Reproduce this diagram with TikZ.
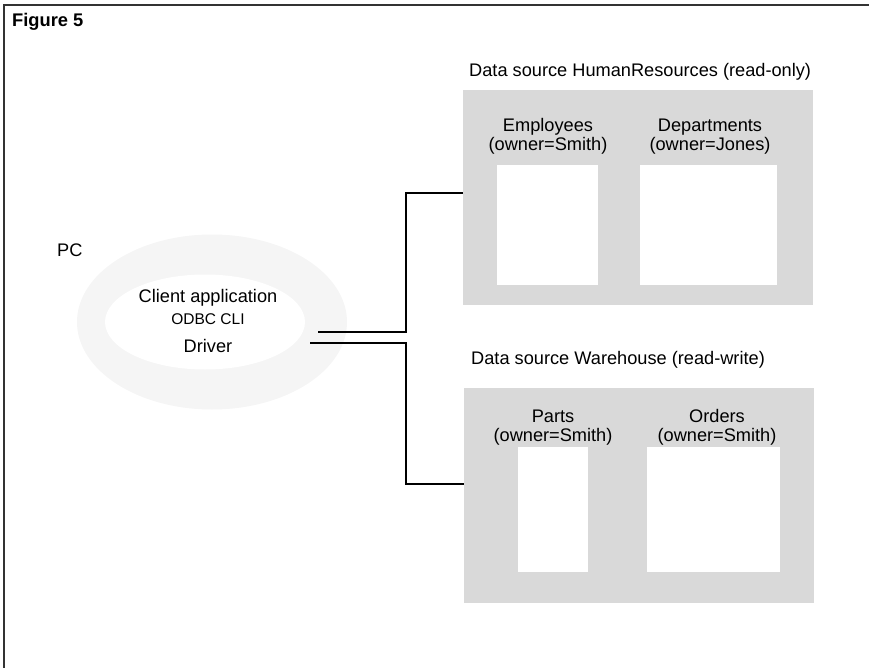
\documentclass[tikz,border=0pt]{standalone}
\usepackage{fontspec}
\setmainfont{Liberation Sans}
\usetikzlibrary{positioning,backgrounds,shapes.geometric}
\definecolor{stipplegray}{HTML}{D9D9D9}
\definecolor{pcgray}{HTML}{F5F5F5}

\begin{document}
\begin{tikzpicture}[
  x=1pt, y=-1pt,
  every node/.style={font=\fontsize{18.2}{20}\selectfont, inner sep=0pt},
  source/.style={fill=stipplegray, minimum width=350pt, minimum height=215pt},
  tablebox/.style={fill=white, minimum height=#1},
  tablebox/.default=120pt,
  pcarea/.style={ellipse, fill=pcgray, minimum width=270pt, minimum height=175pt},
  pchole/.style={ellipse, fill=white, minimum width=200pt, minimum height=95pt},
  title/.style={anchor=base west},
  tlabel/.style={anchor=base},
  smalltext/.style={font=\fontsize{15.5}{17}\selectfont},
  link/.style={draw=black, line width=1.2pt},
  frame/.style={draw=black!80, line width=1.6pt}
]
\useasboundingbox (0,0) rectangle (869,668);

% outer frame
\draw[frame] (4,668) |- (869,5);
\node[font=\bfseries\fontsize{18.3}{20}\selectfont, anchor=base west] (fig) at (12,27) {Figure 5};

% PC
\node[pcarea] (pc) at (212,322) {};
\node[pchole] (pcin) at (205,322) {};
\node[anchor=base west] (pclabel) at (57,256) {PC};
\node[tlabel] (client) at (208,302) {Client application};
\node[tlabel, smalltext] (odbc) at (208,324) {ODBC CLI};
\node[tlabel] (driver) at (208,352) {Driver};
\coordinate (drvup) at (318,332);
\coordinate (drvdown) at (310,343);

% data source HumanResources
\node[source] (hr) at (638,197.5) {};
\node[tablebox, minimum width=101pt] (emp) at (547.5,225) {};
\node[tablebox, minimum width=137pt] (dep) at (708.5,225) {};
\node[title] (hrtitle) at (469,77) {Data source HumanResources (read-only)};
\node[tlabel] (empname) at (548,132) {Employees};
\node[tlabel] (empowner) at (548,151) {(owner=Smith)};
\node[tlabel] (depname) at (710,132) {Departments};
\node[tlabel] (depowner) at (710,151) {(owner=Jones)};

% data source Warehouse
\node[source] (wh) at (639,495.5) {};
\node[tablebox=125pt, minimum width=70pt] (parts) at (553,509.5) {};
\node[tablebox=125pt, minimum width=133pt] (orders) at (713.5,509.5) {};
\node[title] (whtitle) at (471,364) {Data source Warehouse (read-write)};
\node[tlabel] (partsname) at (553,422) {Parts};
\node[tlabel] (partsowner) at (553,441) {(owner=Smith)};
\node[tlabel] (ordersname) at (717,422) {Orders};
\node[tlabel] (ordersowner) at (717,441) {(owner=Smith)};

% connections
\draw[link] (drvup) -- ++(88,0) |- ([yshift=4.5pt]hr.west);
\draw[link] (drvdown) -- ++(96,0) |- ([yshift=11.5pt]wh.west);
\end{tikzpicture}
\end{document}
